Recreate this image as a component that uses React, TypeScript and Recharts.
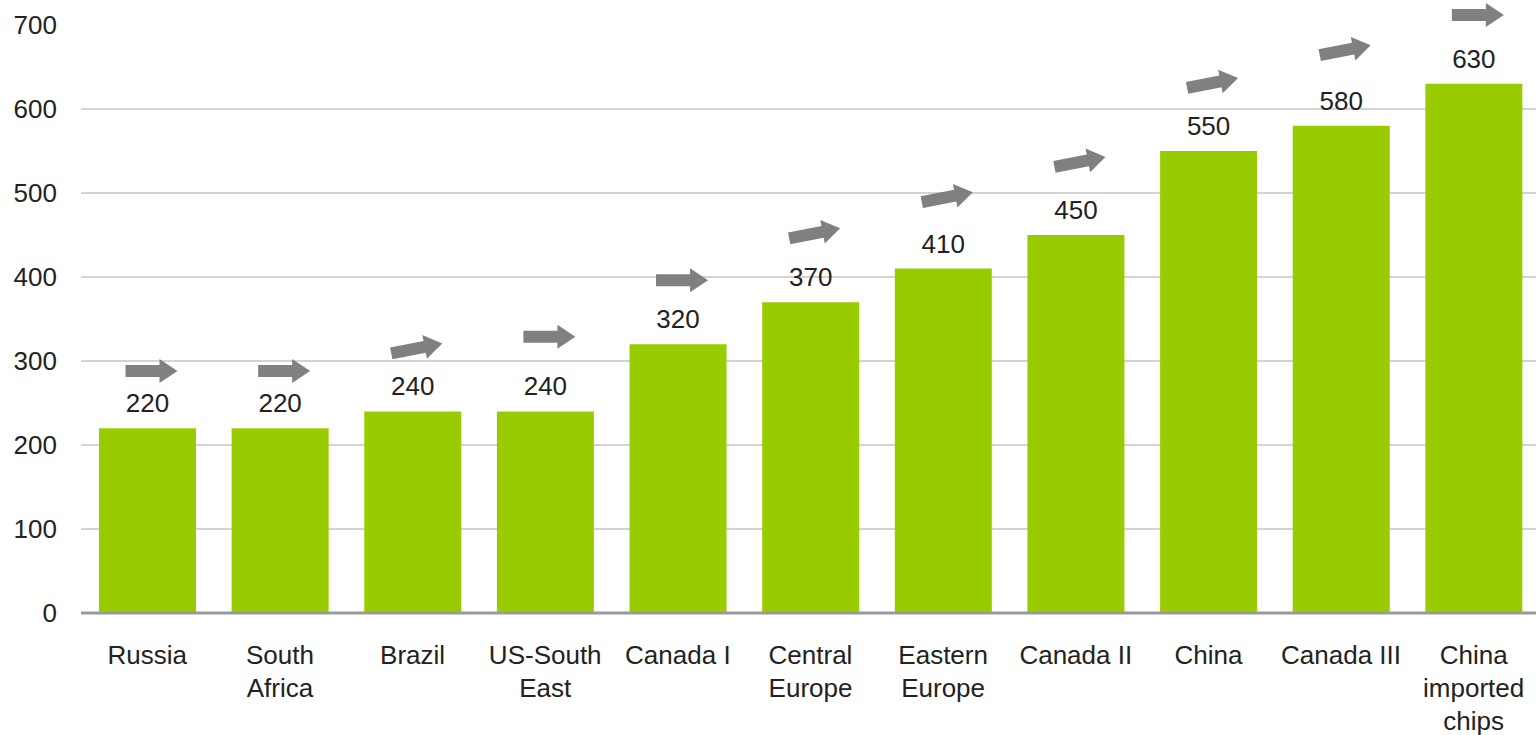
import { ComposedChart, Bar, XAxis, YAxis, CartesianGrid, LabelList } from 'recharts'

const categories = [
  'Russia',
  'South\nAfrica',
  'Brazil',
  'US-South\nEast',
  'Canada I',
  'Central\nEurope',
  'Eastern\nEurope',
  'Canada II',
  'China',
  'Canada III',
  'China\nimported\nchips',
]
const costs = [220, 220, 240, 240, 320, 370, 410, 450, 550, 580, 630]
// level (in axis units) where each trend arrow sits
const arrowLevels = [288, 288, 315, 329, 396, 452, 495, 537, 631, 670, 712]
const arrowTrend = ['flat', 'flat', 'up', 'flat', 'flat', 'up', 'up', 'up', 'up', 'up', 'flat']
const yTicks = [0, 100, 200, 300, 400, 500, 600, 700]
const gridValues = [100, 200, 300, 400, 500, 600]

const FONT = '"Liberation Sans", Arial, sans-serif'
const GREEN = '#99cc00'
const TEXT = '#222222'

const data = categories.map((name, i) => ({ name, cost: costs[i] }))

function CategoryTick({ x, y, payload }: any) {
  const lines = String(payload.value).split('\n')
  return (
    <text x={x} y={y + 51} textAnchor="middle" fontSize={26} fontFamily={FONT} fill={TEXT}>
      {lines.map((l, i) => (
        <tspan key={i} x={x} dy={i === 0 ? 0 : 33}>
          {l}
        </tspan>
      ))}
    </text>
  )
}

function TrendArrow(props: any) {
  const { x, y, width, height, value, index } = props
  if (!value) return null
  // pixels per unit from the bar's own geometry
  const ppu = height / value
  const bottom = y + height
  const cy = bottom - arrowLevels[index] * ppu
  const cx = x + width / 2 + 4
  const angle = arrowTrend[index] === 'up' ? -11 : 0
  const pts = '-26,-6 8,-6 8,-12 26,0 8,12 8,6 -26,6'
  return (
    <polygon
      points={pts}
      fill="#808080"
      transform={`translate(${cx},${cy}) rotate(${angle})`}
    />
  )
}

export default function App() {
  return (
    <div style={{ position: 'fixed', left: 0, top: 0, width: 1536, height: 735, overflow: 'hidden', background: '#fff' }}>
      <ComposedChart
        width={1540}
        height={735}
        data={data}
        margin={{ top: 25, right: 0, bottom: 0, left: 0 }}
      >
        <CartesianGrid
          vertical={false}
          horizontalValues={gridValues}
          stroke="#c4c4c4"
          strokeWidth={1.5}
        />
        <XAxis
          dataKey="name"
          height={122}
          axisLine={{ stroke: '#9a9a9a', strokeWidth: 3 }}
          tickLine={false}
          tickSize={0}
          tickMargin={0}
          interval={0}
          tick={<CategoryTick />}
        />
        <YAxis
          width={81}
          domain={[0, 700]}
          ticks={yTicks}
          axisLine={false}
          tickLine={false}
          tickSize={0}
          tickMargin={24}
          tick={{ fontSize: 26, fontFamily: FONT, fill: TEXT }}
        />
        <Bar dataKey="cost" fill={GREEN} barSize={97} isAnimationActive={false}>
          <LabelList
            dataKey="cost"
            position="top"
            offset={16}
            style={{ fontSize: 26, fontFamily: FONT, fill: TEXT }}
          />
          <LabelList dataKey="cost" content={<TrendArrow />} />
        </Bar>
      </ComposedChart>
    </div>
  )
}
